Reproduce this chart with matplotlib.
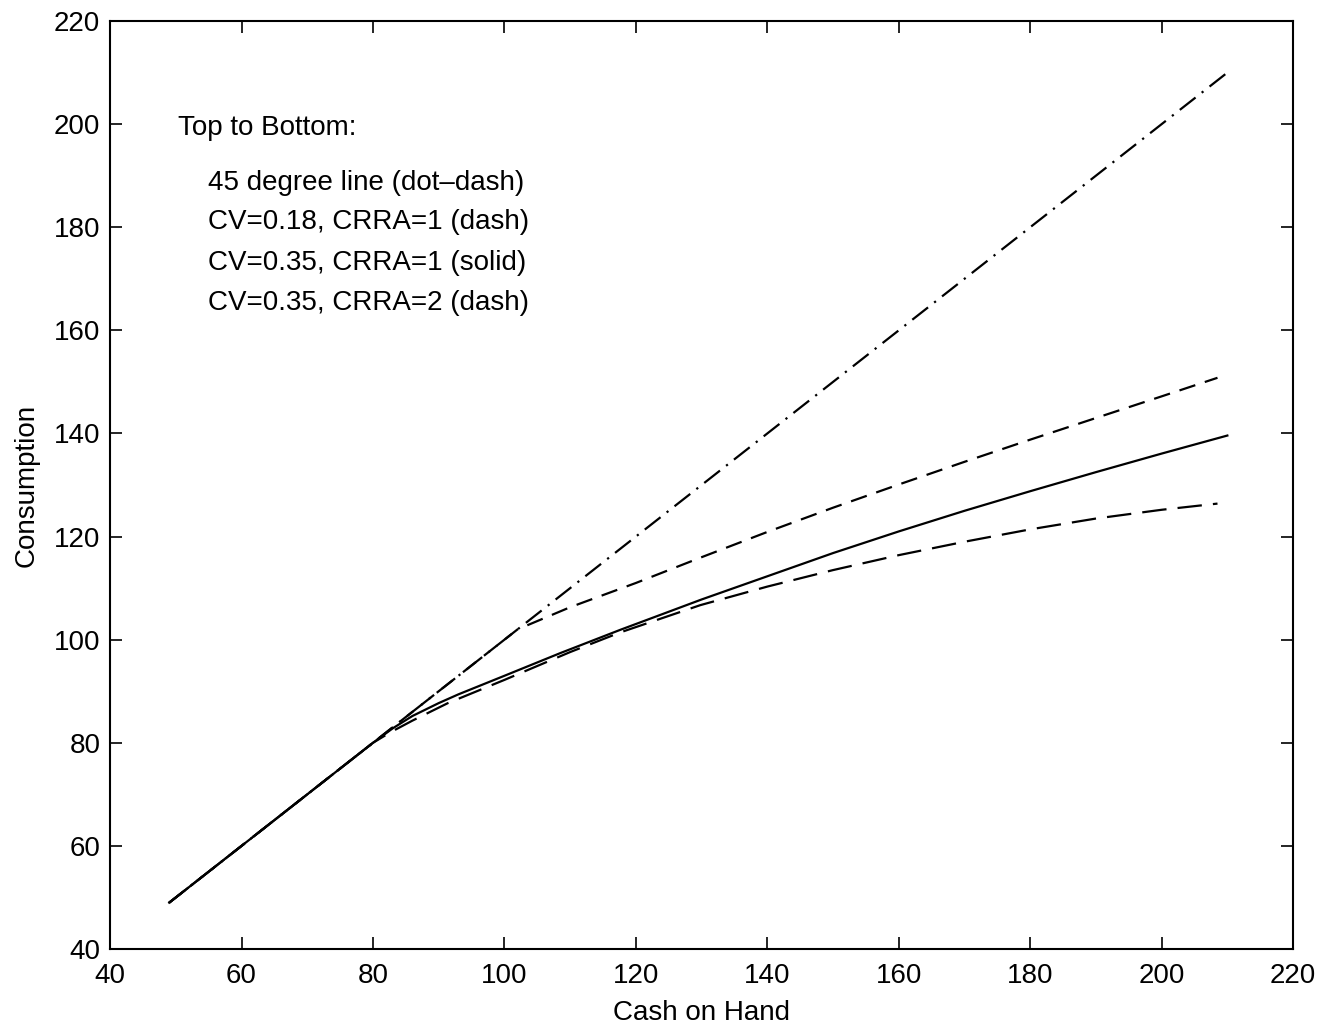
import matplotlib
matplotlib.use("agg")
import matplotlib.pyplot as plt

plt.rcParams['font.family'] = ['Liberation Sans', 'DejaVu Sans']

# 45 degree line
x45 = [49, 210]
y45 = [49, 210]

# CV=0.18, CRRA=1 (dash)
x_cv18 = [49, 80, 102, 110, 120, 130, 140, 150, 160, 170, 180, 190, 200, 208.5]
y_cv18 = [49, 80, 102, 106.3, 111.0, 116.0, 120.9, 125.6, 130.1, 134.5, 138.8, 143.0, 147.2, 150.8]

# CV=0.35, CRRA=1 (solid)
x_cv35 = [49, 80, 83, 86, 90, 93, 100, 108.5, 117.6, 123.7, 130, 140, 150, 160, 170, 180, 190, 200, 210]
y_cv35 = [49, 80, 82.8, 85.2, 87.7, 89.4, 93.0, 97.4, 101.9, 104.8, 107.8, 112.3, 116.8, 121.0, 125.0, 128.8, 132.5, 136.1, 139.6]

# CV=0.35, CRRA=2 (dash)
x_crra2 = [49, 80, 82.6, 86, 91.4, 100, 110, 117.6, 129.8, 140, 150, 160, 170, 180, 190, 200, 208.5]
y_crra2 = [49, 80, 82.0, 84.3, 87.7, 92.2, 97.6, 101.4, 106.7, 110.3, 113.5, 116.4, 119.0, 121.4, 123.5, 125.2, 126.4]

legend_lines = ['45 degree line (dot\u2013dash)',
                'CV=0.18, CRRA=1 (dash)',
                'CV=0.35, CRRA=1 (solid)',
                'CV=0.35, CRRA=2 (dash)']

fig = plt.figure(figsize=(13.39, 10.31), dpi=100)
ax = fig.add_axes([0.0822, 0.0795, 0.8835, 0.9001])

lw = 1.6
ax.plot(x45, y45, color='black', lw=lw, linestyle=(0, (9, 3.5, 1, 3.5)))
ax.plot(x_cv18, y_cv18, color='black', lw=lw, linestyle=(0, (7.5, 4.5)))
ax.plot(x_cv35, y_cv35, color='black', lw=lw, linestyle='-')
ax.plot(x_crra2, y_crra2, color='black', lw=lw, linestyle=(0, (11, 5)))

fs = 20
ax.set_xlim(40, 220)
ax.set_ylim(40, 220)
ax.set_xticks(range(40, 221, 20))
ax.set_yticks(range(40, 221, 20))
ax.tick_params(direction='in', length=8.5, width=1.2, top=True, right=True,
               labelsize=fs)
ax.tick_params(axis='x', pad=10)
ax.tick_params(axis='y', pad=7)
for s in ax.spines.values():
    s.set_linewidth(1.5)

ax.set_xlabel('Cash on Hand', fontsize=fs, labelpad=8)
ax.set_ylabel('Consumption', fontsize=fs, labelpad=10)

ax.text(50.4, 199.2, 'Top to Bottom:', fontsize=fs, va='center', ha='left')
ys = [188.6, 181.0, 173.0, 165.3]
for txt, yy in zip(legend_lines, ys):
    ax.text(54.9, yy, txt, fontsize=fs, va='center', ha='left')

plt.savefig('out.png', dpi=100)
plt.close()
